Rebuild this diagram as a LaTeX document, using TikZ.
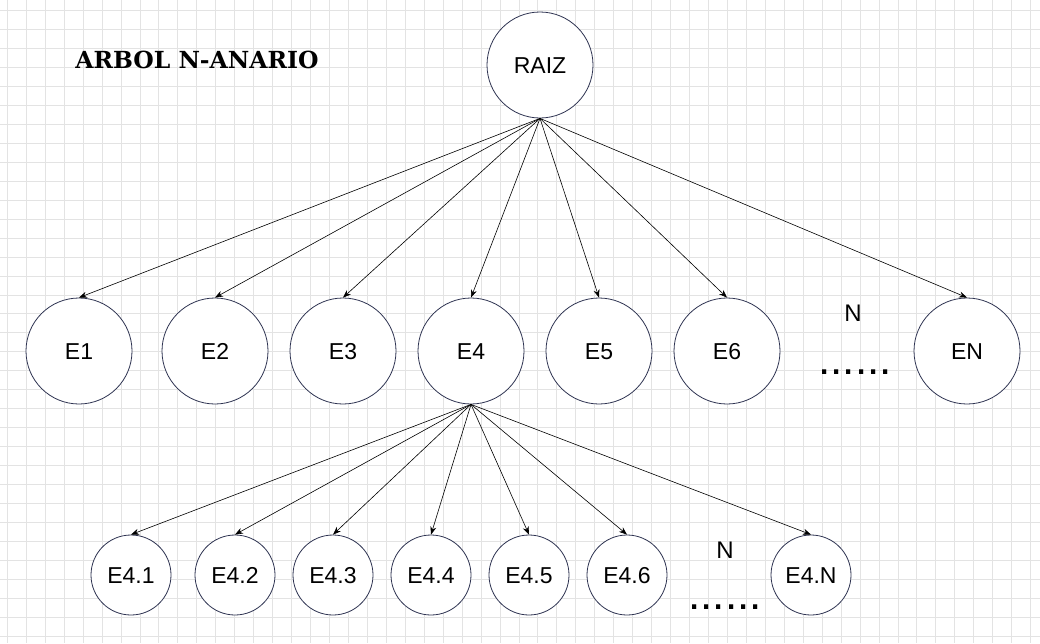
\documentclass[tikz,border=0pt]{standalone}
\usepackage{fontspec}
\setmainfont{Liberation Sans}
\newfontfamily\titlefont{DejaVu Serif}
\usetikzlibrary{arrows.meta}
\definecolor{gridgray}{HTML}{E3E3E3}
\definecolor{ringblue}{HTML}{2F3452}
\tikzset{
  gridline/.style={draw=gridgray,line width=0.9pt},
  bignode/.style={circle,draw=ringblue,line width=0.8pt,minimum size=106pt,inner sep=0pt,text height=16.5pt,text depth=0pt,font=\fontsize{23}{23}\selectfont},
  smallnode/.style={circle,draw=ringblue,line width=0.8pt,minimum size=80pt,inner sep=0pt,text height=16.5pt,text depth=0pt,font=\fontsize{23}{23}\selectfont},
  dotsnode/.style={font=\fontsize{44}{44}\selectfont,inner sep=0pt}
}
\begin{document}
\begin{tikzpicture}[x=1pt,y=-1pt]
            \useasboundingbox (0,0) rectangle (1040,643);
            \fill[white] (0,0) rectangle (1040,643);
            \foreach \i in {0,...,54}
                \draw[gridline] (7.3+18.95*\i,0) -- (7.3+18.95*\i,643);
            \foreach \j in {0,...,33}
                \draw[gridline] (0,10.7+18.95*\j) -- (1040,10.7+18.95*\j);
            \node[font=\titlefont\bfseries\fontsize{23.5}{23.5}\selectfont,inner sep=0pt] (title) at (197,60) {ARBOL N-ANARIO};
            \begin{scope}[every node/.style={bignode,fill=white}]
                \node (raiz) at (540,65) {RAIZ};
                \node (e1) at (79,351) {E1};
                \node (e2) at (215,351) {E2};
                \node (e3) at (343,351) {E3};
                \node (e4) at (471,351) {E4};
                \node (e5) at (599,351) {E5};
                \node (e6) at (727,351) {E6};
                \node (en) at (967,351) {EN};
            \end{scope}
            \begin{scope}[every node/.style={smallnode,fill=white}]
                \node (e41) at (131,575) {E4.1};
                \node (e42) at (235,575) {E4.2};
                \node (e43) at (333,575) {E4.3};
                \node (e44) at (431,575) {E4.4};
                \node (e45) at (529,575) {E4.5};
                \node (e46) at (627,575) {E4.6};
                \node (e4n) at (811,575) {E4.N};
            \end{scope}
            \node[font=\fontsize{24}{24}\selectfont] (n1) at (853,313) {N};
            \node[dotsnode] (dots1) at (855,372) {......};
            \node[font=\fontsize{24}{24}\selectfont] (n2) at (725,550) {N};
            \node[dotsnode] (dots2) at (725,607) {......};
            \begin{scope}[every edge/.style={draw,line width=0.6pt,-{Stealth[length=8pt,width=6pt]}}]
                \path
                    (raiz.south) edge (e1.north)
                    (raiz.south) edge (e2.north)
                    (raiz.south) edge (e3.north)
                    (raiz.south) edge (e4.north)
                    (raiz.south) edge (e5.north)
                    (raiz.south) edge (e6.north)
                    (raiz.south) edge (en.north)
                    (e4.south) edge (e41.north)
                    (e4.south) edge (e42.north)
                    (e4.south) edge (e43.north)
                    (e4.south) edge (e44.north)
                    (e4.south) edge (e45.north)
                    (e4.south) edge (e46.north)
                    (e4.south) edge (e4n.north);
            \end{scope}
        \end{tikzpicture}
\end{document}
